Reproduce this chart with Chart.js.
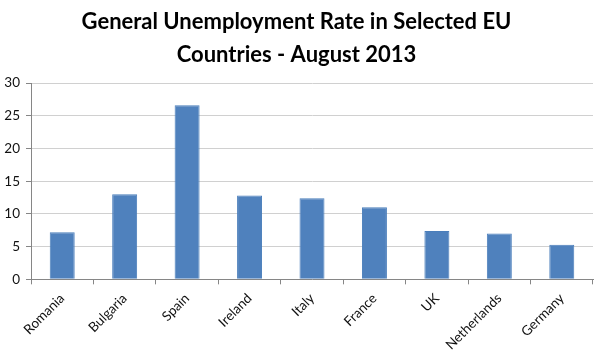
<!DOCTYPE html>
<html>
<head>
<meta charset="utf-8">
<script src="https://cdn.jsdelivr.net/npm/chart.js@4/dist/chart.umd.min.js"></script>
<style>
html,body{margin:0;padding:0;background:#fff;}
#wrap{width:604px;height:352px;position:relative;}
</style>
</head>
<body>
<div id="wrap"><canvas id="c" width="604" height="352"></canvas></div>
<script>
const categories = ["Romania","Bulgaria","Spain","Ireland","Italy","France","UK","Netherlands","Germany"];
const rates = [7.2, 13.0, 26.6, 12.8, 12.4, 11.0, 7.4, 7.0, 5.3];
const titleLines = ["General Unemployment Rate in Selected EU","Countries - August 2013"];

new Chart(document.getElementById('c'), {
  type: 'bar',
  data: {
    labels: categories,
    datasets: [{
      data: rates,
      backgroundColor: '#4F81BD',
      borderColor: '#4A7EBB',
      borderWidth: 1,
      categoryPercentage: 1.0,
      barPercentage: 0.4
    }]
  },
  options: {
    responsive: false,
    animation: false,
    devicePixelRatio: 1,
    layout: { padding: { left: 0, right: 11, top: 5, bottom: 0 } },
    plugins: {
      legend: { display: false },
      tooltip: { enabled: false },
      title: {
        display: true,
        text: titleLines,
        color: '#000',
        font: { family: 'Lato', size: 22, weight: 'bold', lineHeight: 1.5 },
        padding: { top: 0, bottom: 12 }
      }
    },
    scales: {
      x: {
        grid: { offset: true, drawOnChartArea: false, drawTicks: true, tickLength: 5, color: '#868686' },
        border: { color: '#868686' },
        ticks: { minRotation: 45, maxRotation: 45, color: '#111', font: { family: 'Lato', size: 13.5 }, padding: 6 },
        afterFit: (s) => { s.height -= 7; }
      },
      y: {
        min: 0, max: 30,
        ticks: { stepSize: 5, color: '#111', font: { family: 'Lato', size: 13.5 }, padding: 6 },
        grid: { color: '#D0D0D0', tickLength: 5, tickColor: '#868686' },
        border: { color: '#868686' },
        afterFit: (s) => { s.width = 31; }
      }
    }
  }
});
</script>
</body>
</html>
